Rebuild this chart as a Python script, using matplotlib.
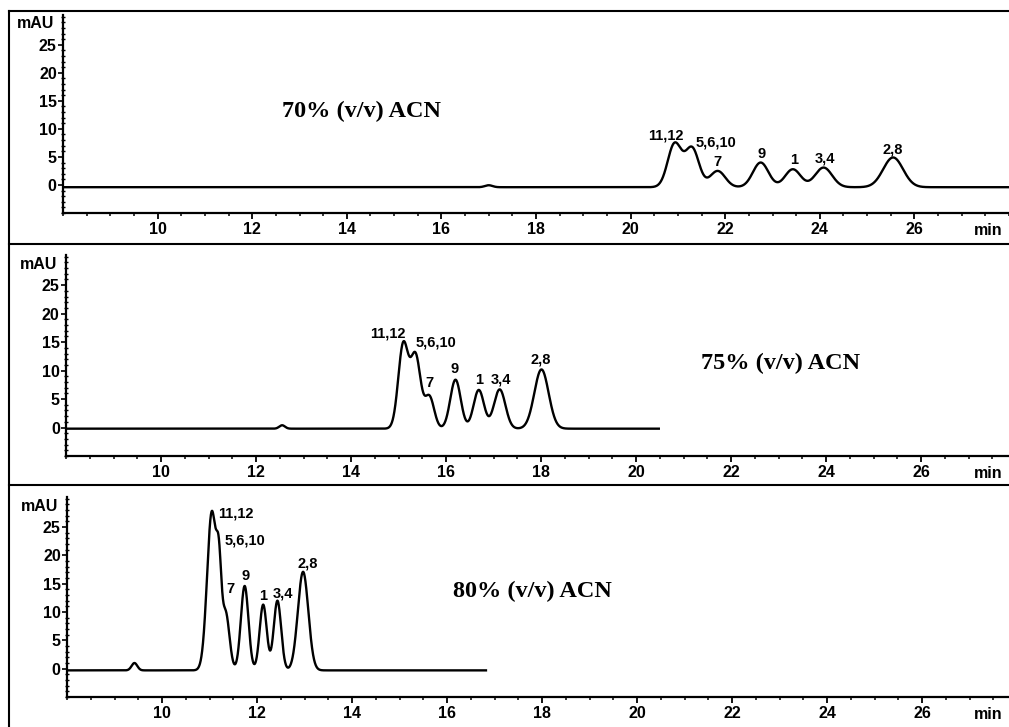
import numpy as np
import matplotlib
matplotlib.use('Agg')
import matplotlib.pyplot as plt
from matplotlib.ticker import MultipleLocator, FixedLocator
from matplotlib.lines import Line2D

# ---------------- data ----------------
# 70% (v/v) ACN : peak retention times (min), heights (mAU), widths (sigma, min)
p70_rt = [20.93, 21.30, 21.84, 22.75, 23.43, 24.08, 25.55, 17.00]
p70_h = [7.7, 6.9, 2.9, 4.4, 3.2, 3.5, 5.3, 0.35]
p70_w = [0.145, 0.145, 0.16, 0.165, 0.165, 0.18, 0.21, 0.08]
p70_base = -0.4
p70_range = [8.0, 28.0]
p70_labels = ["11,12", "5,6,10", "7", "9", "1", "3,4", "2,8"]
p70_lab_x = [20.74, 21.80, 21.84, 22.77, 23.45, 24.10, 25.54]
p70_lab_y = [8.8, 7.6, 4.05, 5.6, 4.4, 4.8, 6.35]

# 75% (v/v) ACN
p75_rt = [15.10, 15.36, 15.65, 16.20, 16.69, 17.13, 18.01, 12.55]
p75_h = [14.7, 12.6, 5.6, 8.6, 6.8, 6.9, 10.4, 0.6]
p75_w = [0.105, 0.105, 0.10, 0.11, 0.11, 0.12, 0.15, 0.06]
p75_base = -0.2
p75_range = [8.0, 20.48]
p75_labels = ["11,12", "5,6,10", "7", "9", "1", "3,4", "2,8"]
p75_lab_x = [14.77, 15.79, 15.66, 16.19, 16.69, 17.16, 18.00]
p75_lab_y = [16.5, 15.0, 7.9, 10.2, 8.3, 8.5, 12.0]

# 80% (v/v) ACN
p80_rt = [11.05, 11.20, 11.34, 11.74, 12.13, 12.43, 12.97, 9.42]
p80_h = [28.0, 11.8, 10.0, 14.9, 11.6, 12.3, 17.4, 1.3]
p80_w = [0.10, 0.05, 0.08, 0.08, 0.075, 0.078, 0.11, 0.06]
p80_base = -0.3
p80_range = [8.0, 16.82]
p80_labels = ["11,12", "5,6,10", "7", "9", "1", "3,4", "2,8"]
p80_lab_x = [11.18, 11.32, 11.44, 11.75, 12.12, 12.54, 13.06]
p80_lab_y = [27.3, 22.7, 14.1, 16.4, 12.9, 13.2, 18.6]

conditions = ["70% (v/v) ACN", "75% (v/v) ACN", "80% (v/v) ACN"]
y_major = [0, 5, 10, 15, 20, 25]
x_major = [10, 12, 14, 16, 18, 20, 22, 24, 26]

# ---------------- figure ----------------
W, H = 1009, 727
fig = plt.figure(figsize=(W / 100, H / 100), dpi=100)
SANS = ['Liberation Sans', 'DejaVu Sans']
SERIF = ['Liberation Serif', 'DejaVu Serif']


def trace(t, rts, hs, ws, base):
    y = np.full_like(t, base)
    for r, h, w in zip(rts, hs, ws):
        y = y + h * np.exp(-0.5 * ((t - r) / w) ** 2)
    return y


panels = [
    dict(rt=p70_rt, h=p70_h, w=p70_w, base=p70_base, rng=p70_range,
         labels=p70_labels, lx=p70_lab_x, ly=p70_lab_y,
         left=63, xaxis=213, top=15, ppm=47.3, cond_xy=(362, 111),
         lab_ha=['center'] * 7),
    dict(rt=p75_rt, h=p75_h, w=p75_w, base=p75_base, rng=p75_range,
         labels=p75_labels, lx=p75_lab_x, ly=p75_lab_y,
         left=66, xaxis=456, top=255, ppm=47.5, cond_xy=(781, 363),
         lab_ha=['center'] * 7),
    dict(rt=p80_rt, h=p80_h, w=p80_w, base=p80_base, rng=p80_range,
         labels=p80_labels, lx=p80_lab_x, ly=p80_lab_y,
         left=67, xaxis=697, top=497, ppm=47.5, cond_xy=(532, 591),
         lab_ha=['left', 'left', 'center', 'center', 'center', 'center', 'center']),
]

for i, p in enumerate(panels):
    ax = fig.add_axes([p['left'] / W, 1 - p['xaxis'] / H,
                       1 - p['left'] / W, (p['xaxis'] - p['top']) / H])
    x0 = 8.0
    x1 = x0 + (W - p['left']) / p['ppm']
    ax.set_xlim(x0, x1)
    ax.set_ylim(-5, 30.3)
    t = np.linspace(p['rng'][0], p['rng'][1], 6000)
    y = trace(t, p['rt'], p['h'], p['w'], p['base'])
    ax.plot(t, y, color='black', lw=1.7, solid_joinstyle='round')

    for s in ['top', 'right']:
        ax.spines[s].set_visible(False)
    for s in ['left', 'bottom']:
        ax.spines[s].set_linewidth(1.6)

    ax.xaxis.set_major_locator(FixedLocator(x_major))
    ax.xaxis.set_minor_locator(MultipleLocator(0.5))
    ax.yaxis.set_major_locator(FixedLocator(y_major))
    ax.yaxis.set_minor_locator(MultipleLocator(1))
    ax.tick_params(axis='x', which='major', direction='out', length=4.5, width=1.3, pad=2)
    ax.tick_params(axis='x', which='minor', direction='out', length=2.5, width=1.1)
    ax.tick_params(axis='y', which='major', direction='out', length=3.5, width=1.2, pad=1)
    ax.tick_params(axis='y', which='minor', direction='inout', length=2.5, width=1.0)
    for lab in ax.get_xticklabels():
        lab.set_fontfamily(SANS)
        lab.set_fontweight('bold')
        lab.set_fontsize(11.5)
    for lab in ax.get_yticklabels():
        lab.set_fontfamily(SANS)
        lab.set_fontweight('bold')
        lab.set_fontsize(11.5)
    ax.patch.set_alpha(0)

    ax.annotate('mAU', xy=(0, 28.7), xycoords=('axes fraction', 'data'),
                xytext=(-6, 0), textcoords='offset points', ha='right', va='center',
                fontsize=11.5, fontweight='bold', family=SANS)
    ax.annotate('min', xy=(974 / W, 0), xycoords=('figure fraction', 'axes fraction'),
                xytext=(0, -7), textcoords='offset points', ha='left', va='top',
                fontsize=11.5, fontweight='bold', family=SANS, annotation_clip=False)

    for name, lx, ly, ha in zip(p['labels'], p['lx'], p['ly'], p['lab_ha']):
        ax.text(lx, ly, name, ha=ha, va='center', fontsize=10.5,
                fontweight='bold', family=SANS)

    cx, cy = p['cond_xy']
    fig.text(cx / W, 1 - cy / H, conditions[i], ha='center', va='center',
             fontsize=17.5, fontweight='bold', family=SERIF)

# panel frames
frame_kw = dict(color='black', lw=1.5, transform=fig.transFigure)
fig.add_artist(Line2D([9 / W, 1], [1 - 11 / H, 1 - 11 / H], **frame_kw))
fig.add_artist(Line2D([9 / W, 9 / W], [1 - 11 / H, 0], **frame_kw))
fig.add_artist(Line2D([9 / W, 1], [1 - 244 / H, 1 - 244 / H], **frame_kw))
fig.add_artist(Line2D([9 / W, 1], [1 - 485 / H, 1 - 485 / H], **frame_kw))

fig.savefig('out.png', dpi=100)
